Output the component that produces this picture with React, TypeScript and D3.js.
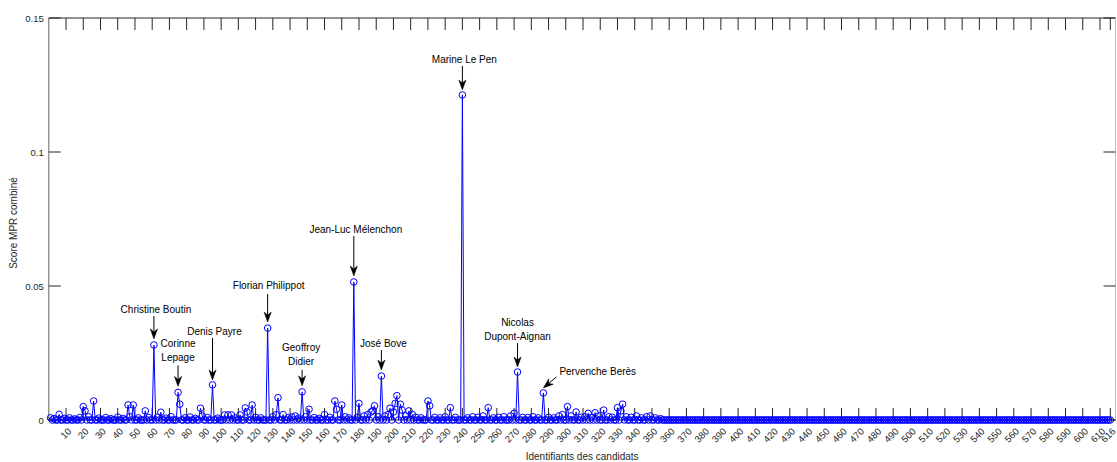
import React from 'react';
import * as d3 from 'd3';

const W = 1117;
const H = 462;

// ---- data ----
const candidateCount = 616;
const peakIds = [
  1, 3, 6, 9, 12, 15, 18, 20, 21, 23, 26, 29, 33, 36, 40, 43, 46, 47, 49, 52, 56, 58,
  61, 63, 65, 68, 71, 75, 76, 79, 82, 85, 88, 89, 92, 95, 98, 102, 104, 106, 108, 111,
  114, 115, 118, 120, 123, 127, 130, 132, 133, 136, 139, 141, 143, 145, 147, 149, 151,
  154, 157, 160, 163, 166, 167, 170, 172, 174, 177, 179, 180, 183, 185, 187, 188, 189,
  191, 193, 195, 197, 198, 200, 201, 202, 204, 205, 207, 209, 211, 213, 216, 220, 221,
  224, 227, 230, 233, 236, 240, 243, 246, 249, 252, 255, 258, 261, 264, 268, 270, 272,
  275, 278, 281, 284, 287, 290, 293, 296, 298, 301, 303, 306, 309, 311, 313, 315, 317,
  319, 322, 325, 327, 330, 332, 333, 335, 338, 341, 344, 347, 349, 352, 355,
];
const peakValues = [
  0.0008, 0.0005, 0.0021, 0.0006, 0.0008, 0.0004, 0.0009, 0.005, 0.0034, 0.0012, 0.0071,
  0.0007, 0.0009, 0.0005, 0.0011, 0.0006, 0.0056, 0.0012, 0.0056, 0.0008, 0.0034, 0.0009,
  0.028, 0.001, 0.0029, 0.0007, 0.0012, 0.0103, 0.0059, 0.0008, 0.0011, 0.0006, 0.0044,
  0.0015, 0.0009, 0.0131, 0.0007, 0.0019, 0.0019, 0.0019, 0.0008, 0.0019,
  0.0045, 0.003, 0.0056, 0.001, 0.0008, 0.0343, 0.0012, 0.002, 0.0083, 0.002, 0.0009,
  0.0011, 0.0015, 0.0007, 0.0105, 0.0012, 0.004,
  0.0009, 0.0006, 0.002, 0.001, 0.0071, 0.004, 0.0056, 0.0012, 0.0008, 0.0515, 0.001,
  0.0062, 0.0015, 0.002, 0.003, 0.0035, 0.0053,
  0.0012, 0.0164, 0.0015, 0.002, 0.0044, 0.003, 0.0062, 0.0091, 0.0059, 0.0037, 0.0015,
  0.0034, 0.002, 0.001, 0.0008, 0.0071, 0.0053,
  0.001, 0.0008, 0.0012, 0.0046, 0.001, 0.1213, 0.0008, 0.0012, 0.001, 0.0015, 0.0046,
  0.0008, 0.001, 0.0012, 0.0015, 0.0025, 0.0179,
  0.001, 0.0009, 0.0012, 0.0008, 0.0101, 0.001, 0.0008, 0.0015, 0.002, 0.005, 0.0015,
  0.003, 0.001, 0.0012, 0.0025, 0.001, 0.0027,
  0.0015, 0.0037, 0.0012, 0.001, 0.0046, 0.0034, 0.0059, 0.0012, 0.001, 0.0015, 0.0008,
  0.0012, 0.0015, 0.0008, 0.0005,
];

const xTickValues = [...d3.range(10, 611, 10), 616];
const xTickLabels = xTickValues.map(String);
const yTickValues = [0, 0.05, 0.1, 0.15];
const yTickLabels = ['0', '0.05', '0.1', '0.15'];

const annotationIds = [61, 75, 95, 127, 147, 177, 193, 240, 272, 287];
const annotationLabels = [
  ['Christine Boutin'],
  ['Corinne', 'Lepage'],
  ['Denis Payre'],
  ['Florian Philippot'],
  ['Geoffroy', 'Didier'],
  ['Jean-Luc Mélenchon'],
  ['José Bove'],
  ['Marine Le Pen'],
  ['Nicolas', 'Dupont-Aignan'],
  ['Pervenche Berès'],
];

// ---- layout (pixel offsets relative to the annotated point) ----
type Lay = { tdx: number; tdy: number; anchor: string; ax1: number; ay1: number; ax2: number; ay2: number };
const annotationLayout: Lay[] = [
  { tdx: 2, tdy: -32, anchor: 'middle', ax1: 0, ay1: -29, ax2: 0, ay2: -6 },
  { tdx: 0, tdy: -31, anchor: 'middle', ax1: 0, ay1: -27, ax2: 0, ay2: -6 },
  { tdx: 2, tdy: -50, anchor: 'middle', ax1: 0, ay1: -47, ax2: 0, ay2: -5 },
  { tdx: 1, tdy: -39, anchor: 'middle', ax1: 0, ay1: -34, ax2: 0, ay2: -6 },
  { tdx: -1, tdy: -27, anchor: 'middle', ax1: 0, ay1: -22, ax2: 0, ay2: -6 },
  { tdx: 2, tdy: -49, anchor: 'middle', ax1: 0, ay1: -46, ax2: 0, ay2: -6 },
  { tdx: 2, tdy: -29, anchor: 'middle', ax1: 0, ay1: -26, ax2: 0, ay2: -6 },
  { tdx: 2, tdy: -32, anchor: 'middle', ax1: 0, ay1: -29, ax2: 0, ay2: -5 },
  { tdx: 0, tdy: -32, anchor: 'middle', ax1: 0, ay1: -29, ax2: 0, ay2: -5 },
  { tdx: 16, tdy: -18, anchor: 'start', ax1: 13, ay1: -16, ax2: 0, ay2: -5 },
];

const FONT = "'Liberation Sans', Arial, Helvetica, sans-serif";
const BLUE = '#0000ff';
const AX = '#262626';

function Arrow({ x1, y1, x2, y2 }: { x1: number; y1: number; x2: number; y2: number }) {
  const ang = Math.atan2(y2 - y1, x2 - x1);
  const L = 10;
  const w = 3.6;
  const ux = Math.cos(ang);
  const uy = Math.sin(ang);
  const px = -uy;
  const py = ux;
  const bx = x2 - ux * L;
  const by = y2 - uy * L;
  const nx = x2 - ux * L * 0.7;
  const ny = y2 - uy * L * 0.7;
  const d = `M${x2},${y2} L${bx + px * w},${by + py * w} L${nx},${ny} L${bx - px * w},${by - py * w} Z`;
  return (
    <g>
      <line x1={x1} y1={y1} x2={nx} y2={ny} stroke="#000" strokeWidth={1} />
      <path d={d} fill="#000" stroke="#000" strokeWidth={0.5} />
    </g>
  );
}

export default function App() {
  const left = 48.8;
  const right = 1115.5;
  const top = 18;
  const bottom = 420;
  const x = d3.scaleLinear().domain([0, 619]).range([left, right]);
  const y = d3.scaleLinear().domain([0, 0.15]).range([bottom, top]);

  const ids = d3.range(1, candidateCount + 1);
  const valueMap = new Map<number, number>();
  peakIds.forEach((id, i) => valueMap.set(id, peakValues[i]));
  const values = ids.map((id) => valueMap.get(id) ?? 0);
  const pts: [number, number][] = ids.map((id, i) => [x(id), y(values[i])]);
  const lineGen = d3.line<[number, number]>().x((d) => d[0]).y((d) => d[1]);

  const tickLen = 12;

  return (
    <svg
      width={W}
      height={H}
      style={{ position: 'absolute', left: 0, top: 0, background: '#fff' }}
      fontFamily={FONT}
    >
      <rect x={0} y={0} width={W} height={H} fill="#fff" />
      {/* axes box */}
      <line x1={left} y1={top} x2={right} y2={top} stroke={AX} strokeWidth={1} />
      <line x1={left} y1={top} x2={left} y2={bottom} stroke="#666" strokeWidth={1} />
      <line x1={right} y1={top} x2={right} y2={bottom} stroke="#bbb" strokeWidth={1} />
      <line x1={left} y1={bottom} x2={right} y2={bottom} stroke={AX} strokeWidth={1} />
      {/* x ticks */}
      {xTickValues.map((t, i) => (
        <g key={'xt' + i}>
          <line x1={x(t)} x2={x(t)} y1={top} y2={top + tickLen} stroke={AX} strokeWidth={1} />
          <line x1={x(t)} x2={x(t)} y1={bottom} y2={bottom - tickLen} stroke={AX} strokeWidth={1} />
          <text
            transform={`translate(${x(t) + 6},${bottom + 12}) rotate(-45)`}
            textAnchor="end"
            fontSize={9.5}
            fill={AX}
          >
            {xTickLabels[i]}
          </text>
        </g>
      ))}
      {/* y ticks */}
      {yTickValues.map((t, i) => (
        <g key={'yt' + i}>
          <line x1={left} x2={left + tickLen} y1={y(t)} y2={y(t)} stroke={AX} strokeWidth={1} />
          <line x1={right} x2={right - tickLen} y1={y(t)} y2={y(t)} stroke={AX} strokeWidth={1} />
          <text x={left - 5} y={y(t) + 3.5} textAnchor="end" fontSize={9.5} fill={AX}>
            {yTickLabels[i]}
          </text>
        </g>
      ))}
      {/* axis labels */}
      <text
        transform={`translate(${17},${(top + bottom) / 2 + 4}) rotate(-90)`}
        textAnchor="middle"
        fontSize={10}
        fill={AX}
      >
        Score MPR combiné
      </text>
      <text x={(left + right) / 2} y={460} textAnchor="middle" fontSize={10} fill={AX}>
        Identifiants des candidats
      </text>
      {/* data */}
      <path d={lineGen(pts) ?? ''} fill="none" stroke={BLUE} strokeWidth={1} />
      {pts.map((p, i) => (
        <circle key={'c' + i} cx={p[0]} cy={p[1]} r={3.3} fill="none" stroke={BLUE} strokeWidth={1} />
      ))}
      {/* annotations */}
      {annotationIds.map((id, k) => {
        const lay = annotationLayout[k];
        const px = x(id);
        const py = y(valueMap.get(id) ?? 0);
        const lines = annotationLabels[k];
        const lh = 14;
        return (
          <g key={'a' + k}>
            {lines.map((ln, j) => (
              <text
                key={j}
                x={px + lay.tdx}
                y={py + lay.tdy - (lines.length - 1 - j) * lh}
                textAnchor={lay.anchor}
                fontSize={10}
                fill="#000"
              >
                {ln}
              </text>
            ))}
            <Arrow x1={px + lay.ax1} y1={py + lay.ay1} x2={px + lay.ax2} y2={py + lay.ay2} />
          </g>
        );
      })}
    </svg>
  );
}
